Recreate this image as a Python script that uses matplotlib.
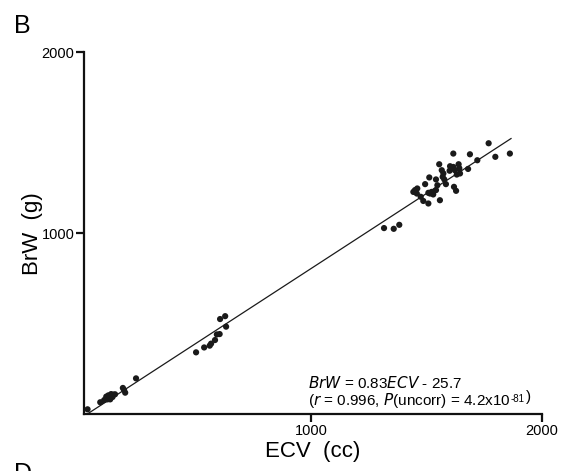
import matplotlib
matplotlib.use("Agg")
import matplotlib.pyplot as plt
import numpy as np

plt.rcParams['font.family'] = ['Liberation Sans', 'DejaVu Sans']

# endocranial volume (cc) vs brain weight (g)
ecv = [32, 87, 104, 113, 118, 122, 130, 134, 144, 151, 140, 185, 190, 195, 242,
       502, 537, 561, 567, 584, 592, 604, 632, 606, 628,
       1316, 1358, 1382,
       1769, 1861, 1798, 1616, 1688, 1720, 1555, 1602, 1616, 1639, 1642, 1623,
       1645, 1631, 1680, 1566, 1573, 1570, 1577, 1584, 1512, 1541, 1494, 1547,
       1619, 1628, 1450, 1460, 1458, 1443, 1475, 1486, 1508, 1515, 1522, 1529,
       1541, 1558, 1508, 1600]
brw = [26, 65, 77, 96, 81, 103, 81, 110, 107, 109, 94, 144, 133, 118, 197,
       341, 368, 378, 389, 409, 440, 442, 483, 525, 541,
       1028, 1024, 1046,
       1497, 1440, 1422, 1440, 1436, 1403, 1381, 1370, 1366, 1381, 1359, 1348,
       1330, 1324, 1355, 1348, 1330, 1311, 1297, 1271, 1308, 1297, 1271, 1265,
       1256, 1234, 1238, 1247, 1219, 1228, 1201, 1178, 1164, 1219, 1228, 1214,
       1238, 1182, 1223, 1345]

slope = 0.83
intercept = -25.7
fit_range = [31, 1866]

fig = plt.figure(figsize=(5.72, 4.71), dpi=100)
ax = fig.add_axes([0.147, 0.121, 0.8005, 0.768])

ax.scatter(ecv, brw, s=20, color='#1a1a1a', edgecolors='none', zorder=3)
xf = np.array(fit_range)
ax.plot(xf, slope * xf + intercept, color='#1a1a1a', lw=0.9, zorder=2)

ax.set_xlim(17, 2000)
ax.set_ylim(0, 2000)
ax.set_xticks([1000, 2000])
ax.set_yticks([1000, 2000])
for s in ['top', 'right']:
    ax.spines[s].set_visible(False)
for s in ['left', 'bottom']:
    ax.spines[s].set_linewidth(1.6)
    ax.spines[s].set_color('#111111')
ax.tick_params(length=5.5, width=1.6, pad=1.5, labelsize=10.5, color='#111111')

ax.set_xlabel('ECV  (cc)', fontsize=16, labelpad=2)
ax.set_ylabel('BrW  (g)', fontsize=16, labelpad=-1)

# regression equation, two lines
ax.text(0.49, 0.063, r'$\it{BrW}$ = 0.83$\it{ECV}$ - 25.7', transform=ax.transAxes,
        fontsize=11, ha='left', va='bottom')
t2 = ax.text(0.49, 0.012, r'($\it{r}$ = 0.996, $\it{P}$(uncorr) = 4.2x10',
             transform=ax.transAxes, fontsize=11, ha='left', va='bottom')
t3 = ax.annotate('-81', xy=(1, 1), xycoords=t2, xytext=(0, -2.5),
                 textcoords='offset points', fontsize=7, ha='left', va='top')
ax.annotate(')', xy=(1, 0), xycoords=t3, xytext=(0.5, 0),
            textcoords='offset points', fontsize=11, ha='left', va='bottom')

fig.text(0.025, 0.93, 'B', fontsize=18)
fig.text(0.025, -0.022, 'D', fontsize=18)

fig.savefig('out.png', dpi=100)
